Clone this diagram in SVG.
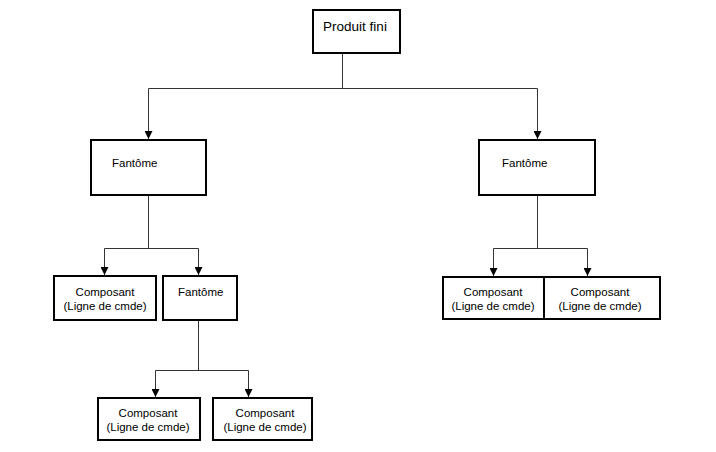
<svg xmlns="http://www.w3.org/2000/svg" width="716" height="452" viewBox="0 0 716 452">
<defs>
<marker id="arr" markerUnits="userSpaceOnUse" markerWidth="8" markerHeight="8" refX="7" refY="3.5" orient="auto" viewBox="0 0 7 7">
<path d="M0,0 L7,3.5 L0,7 Z" fill="#000"/>
</marker>
<style>
.box{fill:#fff;stroke:#000;stroke-width:2}
.c{fill:none;stroke:#333;stroke-width:1}
.a{fill:none;stroke:#333;stroke-width:1;marker-end:url(#arr)}
text{font-family:"Liberation Sans",Arial,sans-serif;font-size:11.5px;fill:#000}
.m{text-anchor:middle}
</style>
</defs>
<rect width="716" height="452" fill="#fff"/>
<g id="connectors">
<path class="c" d="M342.5,53 V88.5 M148.5,88.5 H537.5"/>
<path class="a" d="M148.5,88.5 V139"/>
<path class="a" d="M537.5,88.5 V139"/>
<path class="c" d="M148.5,195 V248.5 M104.5,248.5 H198.5"/>
<path class="a" d="M104.5,248.5 V275"/>
<path class="a" d="M198.5,248.5 V275"/>
<path class="c" d="M537.5,195 V248.5 M493.5,248.5 H587.5"/>
<path class="a" d="M493.5,248.5 V276"/>
<path class="a" d="M587.5,248.5 V276"/>
<path class="c" d="M198.5,320 V370.5 M155.5,370.5 H248.5"/>
<path class="a" d="M155.5,370.5 V397"/>
<path class="a" d="M248.5,370.5 V397"/>
</g>
<g id="produit-fini">
<rect class="box" x="313" y="10" width="87" height="43"/>
<text x="355" y="31" class="m" style="font-size:13.5px">Produit fini</text>
</g>
<g id="fantome-left">
<rect class="box" x="91" y="140" width="115" height="55"/>
<text x="112" y="167">Fantôme</text>
</g>
<g id="fantome-right">
<rect class="box" x="479" y="140" width="116" height="55"/>
<text x="502" y="167">Fantôme</text>
</g>
<g id="composant-1">
<rect class="box" x="54" y="276" width="102" height="44"/>
<text x="105" y="296" class="m">Composant</text>
<text x="105" y="310" class="m">(Ligne de cmde)</text>
</g>
<g id="fantome-mid">
<rect class="box" x="163" y="276" width="74" height="44"/>
<text x="178" y="296">Fantôme</text>
</g>
<g id="composant-2">
<rect class="box" x="443" y="277" width="101" height="42"/>
<text x="493" y="296" class="m">Composant</text>
<text x="493" y="310" class="m">(Ligne de cmde)</text>
</g>
<g id="composant-3">
<rect class="box" x="544" y="277" width="116" height="42"/>
<text x="600" y="296" class="m">Composant</text>
<text x="600" y="310" class="m">(Ligne de cmde)</text>
</g>
<g id="composant-4">
<rect class="box" x="98" y="398" width="102" height="42"/>
<text x="148" y="417" class="m">Composant</text>
<text x="148" y="431" class="m">(Ligne de cmde)</text>
</g>
<g id="composant-5">
<rect class="box" x="213" y="398" width="99" height="42"/>
<text x="265" y="417" class="m">Composant</text>
<text x="265" y="431" class="m">(Ligne de cmde)</text>
</g>
</svg>
